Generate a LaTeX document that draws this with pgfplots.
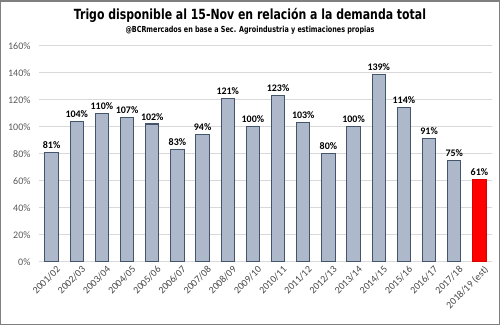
\documentclass[border=0pt]{standalone}
\usepackage{pgfplots}
\pgfplotsset{compat=1.18}
\usepackage{fontspec}
\setmainfont{Carlito}
\newfontfamily\titlefont{DejaVu Sans Condensed}
\definecolor{barfill}{HTML}{ADB9CA}
\definecolor{baredge}{HTML}{44546A}
\definecolor{gridc}{HTML}{D9D9D9}
\definecolor{tickc}{HTML}{595959}
\definecolor{framec}{HTML}{7F7F7F}
\begin{document}
\begin{tikzpicture}
\begin{axis}[
  at={(0pt,0pt)}, anchor=south west,
  scale only axis, width=453pt, height=216pt,
  xmin=-0.5, xmax=17.5, ymin=0, ymax=160,
  ytick={0,20,...,160},
  yticklabel={\pgfmathprintnumber{\tick}\%},
  yticklabel style={tickc, font=\fontsize{10}{10}\selectfont, xshift=-5pt},
  /pgf/number format/assume math mode=true,
  xtick={0,...,17},
  xticklabels={2001/02,2002/03,2003/04,2004/05,2005/06,2006/07,2007/08,2008/09,2009/10,2010/11,2011/12,2012/13,2013/14,2014/15,2015/16,2016/17,2017/18,2018/19 (est)},
  xticklabel style={rotate=45, anchor=north east, font=\fontsize{10}{10}\selectfont, tickc!80!black, xshift=4pt, yshift=-2pt},
  ymajorgrids, grid style={gridc, line width=0.8pt},
  axis line style={draw=none},
  major tick length=0pt,
  ybar, bar width=13.3pt, bar shift=0pt,
  nodes near coords={\pgfmathprintnumber{\pgfplotspointmeta}\%},
  nodes near coords style={font=\fontsize{10}{10}\selectfont\bfseries, black},
  clip=false,
]
\draw[gridc, line width=1pt] (axis cs:-0.5,0) -- (axis cs:17.5,0);
\addplot[fill=barfill, draw=baredge, line width=1.1pt] coordinates {
(0,81) (1,104) (2,110) (3,107) (4,102) (5,83) (6,94) (7,121) (8,100) (9,123) (10,103) (11,80) (12,100) (13,139) (14,114) (15,91) (16,75)
};
\addplot[fill=red, draw=red!85!black, line width=0.9pt] coordinates {(17,61)};
\end{axis}
\draw[framec, line width=1.5pt] (-38.25pt,-62.55pt) rectangle (460.25pt,260.95pt);
\useasboundingbox (-39pt,-63.3pt) rectangle (461pt,261.7pt);
\node at (211pt,246.7pt) {\resizebox{352pt}{\height}{\titlefont\fontsize{14}{15}\selectfont\bfseries Trigo disponible al 15-Nov en relación a la demanda total}};
\node at (211pt,231.2pt) {\resizebox{249pt}{\height}{\titlefont\fontsize{8.3}{9}\selectfont\bfseries @BCRmercados en base a Sec. Agroindustria y estimaciones propias}};
\end{tikzpicture}
\end{document}
